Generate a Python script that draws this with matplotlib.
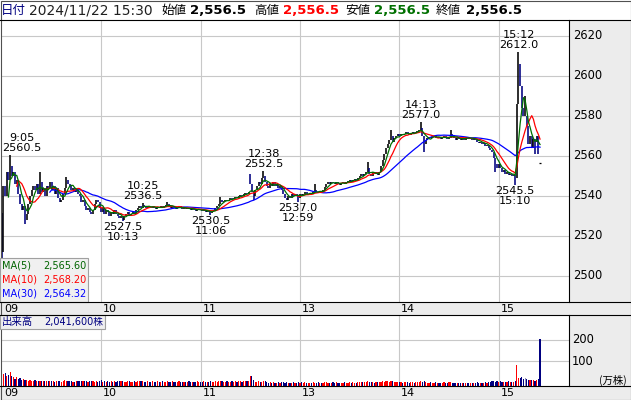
import matplotlib
matplotlib.use("Agg")
import matplotlib.pyplot as plt
from matplotlib.patches import Rectangle
import matplotlib.transforms as mtrans
import numpy as np
import pandas as pd

plt.rcParams['font.family'] = ['DejaVu Sans', 'Noto Sans CJK JP']

# ---------------- data (1-minute bars, lunch break removed) ----------------
# minute index: 0 = 9:00 ... 149 = 11:29, 150 = 12:30 ... 324 = 15:24, 325 = 15:30 close
closes = [
    2512, 2545, 2540, 2552, 2548, 2555, 2550, 2552, 2546, 2548,
    2541, 2536, 2533, 2535, 2528, 2531, 2536, 2540, 2543, 2545,
    2543, 2546, 2541, 2547, 2542, 2544, 2540, 2545, 2544, 2547,
    2543, 2545, 2541, 2544, 2539, 2537, 2538, 2541, 2544, 2548,
    2546, 2545, 2543, 2544, 2542, 2543, 2541, 2540, 2537, 2538,
    2535, 2533, 2534, 2532, 2531, 2533, 2536, 2538, 2537, 2534,
    2532, 2534, 2531, 2533, 2532, 2530, 2532, 2531, 2533, 2531,
    2530, 2529, 2530, 2528, 2530, 2531, 2532, 2530, 2531, 2532,
    2531, 2533, 2534, 2535, 2534, 2535.5, 2535, 2534, 2535, 2534.5,
    2534, 2535, 2534, 2533.5, 2534.5, 2534, 2535, 2534, 2535, 2535.5,
    2536, 2535, 2534, 2534.5, 2534, 2533.5, 2534, 2535, 2534, 2533.5,
    2534, 2533.5, 2534, 2533.5, 2533, 2534, 2533, 2532.5, 2533, 2533.5,
    2533, 2532.5, 2533, 2532, 2532.5, 2532, 2531.5, 2532.5, 2533, 2534,
    2535, 2536, 2538, 2537, 2537.5, 2538, 2537.5, 2538, 2539, 2538.5,
    2539, 2539.5, 2539, 2540, 2540.5, 2540, 2541, 2541.5, 2541, 2542,
    2546, 2542, 2540, 2543, 2545, 2547, 2546, 2549, 2550, 2547,
    2545, 2544, 2546, 2545, 2547, 2545, 2546, 2544, 2545, 2543,
    2541, 2539, 2538, 2540, 2539, 2541, 2540, 2541, 2540, 2539,
    2541, 2540, 2541, 2542, 2540.5, 2541, 2541.5, 2541, 2542, 2543,
    2542, 2541.5, 2542.5, 2542, 2543, 2544.5, 2546, 2547, 2546, 2547,
    2546.5, 2546, 2547, 2546, 2545.5, 2546.5, 2547, 2546, 2547, 2547.5,
    2548, 2547, 2548, 2548.5, 2547.5, 2549, 2550, 2551, 2550, 2551,
    2552, 2554, 2551, 2550, 2552, 2551, 2552, 2550.5, 2552, 2555,
    2558, 2561, 2564, 2566, 2568, 2570, 2567, 2569, 2570, 2571,
    2570, 2571, 2570.5, 2571, 2572, 2571, 2570.5, 2571, 2572, 2571.5,
    2572, 2572.5, 2573, 2574, 2570, 2566, 2568, 2569, 2569.5, 2569,
    2569.5, 2570, 2569, 2569.5, 2569, 2568.5, 2569, 2570, 2569, 2568.5,
    2569, 2571, 2570, 2569, 2568, 2569, 2568.5, 2568, 2569, 2568,
    2569.5, 2569, 2568.5, 2569, 2568, 2568.5, 2568, 2567, 2566.5, 2567,
    2566, 2566.5, 2565, 2565.5, 2564, 2563, 2562, 2559, 2556, 2554,
    2556, 2554, 2552, 2553, 2551, 2552, 2550.5, 2551, 2550, 2550.5,
    2549, 2586, 2600, 2595, 2584, 2580, 2580, 2575, 2566, 2570,
    2564, 2568.5, 2567, 2570, 2566, 2556.5,
]

# bars whose open is not the previous close (opening, afternoon open, closing auction)
open_prices = {0: 2530, 150: 2550, 325: 2556.5}
# wick extremes
wick_highs = {0: 2531.5, 5: 2560.5, 23: 2552, 39: 2549.5, 85: 2536.5, 100: 2537,
              132: 2539.5, 150: 2551, 158: 2552.5, 189: 2546, 221: 2557,
              235: 2573, 253: 2577.0, 271: 2573, 312: 2612.0, 313: 2606, 316: 2590}
wick_lows = {0: 2505, 14: 2526, 71: 2529.5, 73: 2527.5, 126: 2530.5, 152: 2538,
             179: 2537.0, 255: 2562, 298: 2552, 310: 2545.5, 322: 2561, 324: 2561}

# volume per bar (万株)
volumes = [
    420, 40, 46, 30, 36, 50, 30, 26, 20, 28,
    16, 22, 14, 18, 12, 15, 10, 13, 11, 9,
    12, 8, 10, 9, 11, 8, 7, 10, 11, 8,
    7, 9, 6, 8, 11, 7, 6, 8, 12, 10,
    8, 7, 9, 6, 5, 8, 7, 9, 10, 8,
    7, 10, 6, 8, 9, 7, 5, 8, 6, 7,
    12, 6, 8, 5, 7, 6, 8, 5, 7, 6,
    8, 11, 7, 9, 6, 5, 7, 8, 6, 5,
    7, 6, 8, 9, 7, 10, 6, 5, 7, 6,
    5, 7, 6, 4, 8, 5, 6, 7, 5, 6,
    8, 6, 5, 7, 4, 6, 5, 7, 6, 4,
    5, 6, 4, 7, 5, 6, 4, 5, 7, 5,
    6, 5, 7, 4, 6, 5, 8, 5, 6, 7,
    6, 8, 9, 7, 5, 6, 7, 5, 6, 8,
    5, 7, 6, 8, 7, 6, 9, 7, 8, 10,
    30, 33, 14, 6, 5, 8, 6, 5, 10, 7,
    3, 2, 4, 2, 3, 2, 2, 4, 2, 3,
    4, 2, 3, 2, 2, 1, 3, 2, 2, 4,
    2, 3, 1, 3, 2, 2, 2, 1, 3, 2,
    2, 3, 2, 2, 1, 4, 3, 2, 2, 2,
    3, 2, 3, 2, 2, 1, 2, 3, 2, 2,
    3, 2, 4, 2, 2, 3, 4, 3, 3, 5,
    4, 9, 6, 3, 4, 2, 3, 5, 4, 6,
    7, 6, 9, 8, 6, 9, 7, 5, 4, 6,
    4, 3, 2, 4, 3, 5, 2, 3, 4, 2,
    3, 4, 5, 10, 6, 7, 3, 2, 2, 3,
    2, 2, 3, 2, 1, 2, 2, 3, 2, 2,
    3, 6, 2, 2, 2, 1, 2, 2, 2, 1,
    2, 2, 1, 2, 2, 1, 2, 3, 2, 2,
    2, 2, 3, 2, 4, 5, 7, 9, 6, 7,
    5, 8, 4, 6, 5, 3, 7, 4, 6, 5,
    8, 82, 24, 22, 26, 20, 24, 18, 14, 13,
    15, 12, 11, 13, 17, 204.16,
]

# annotated extremes: (minute, price, kind, time label)
extremes = [
    (5, 2560.5, 'high', '9:05'),
    (85, 2536.5, 'high', '10:25'),
    (73, 2527.5, 'low', '10:13'),
    (126, 2530.5, 'low', '11:06'),
    (158, 2552.5, 'high', '12:38'),
    (179, 2537.0, 'low', '12:59'),
    (253, 2577.0, 'high', '14:13'),
    (312, 2612.0, 'high', '15:12'),
    (310, 2545.5, 'low', '15:10'),
]

hour_ticks = [0, 60, 120, 180, 240, 300]
hour_labels = ['09', '10', '11', '13', '14', '15']
price_ticks = [2500, 2520, 2540, 2560, 2580, 2600, 2620]
vol_ticks = [100, 200]

ma_text = [('MA(5)', '2,565.60', '#006400'),
           ('MA(10)', '2,568.20', '#ff0000'),
           ('MA(30)', '2,564.32', '#0000ff')]

# ---------------- figure ----------------
W, H = 631, 400
fig = plt.figure(figsize=(W / 100, H / 100), dpi=100)
fig.patch.set_facecolor('white')

def axes_px(x0, y0, x1, y1, **kw):
    return fig.add_axes([x0 / W, 1 - y1 / H, (x1 - x0) / W, (y1 - y0) / H], **kw)

GRAY_BG = '#ececec'
GRID = '#c8c8c8'
NAVY = '#000080'

ax_bg = fig.add_axes([0, 0, 1, 1], zorder=0)
ax_bg.set_xlim(0, W); ax_bg.set_ylim(H, 0); ax_bg.axis('off')
ax_bg.add_patch(Rectangle((569, 20), 62, 380, facecolor=GRAY_BG, edgecolor='none'))
ax_bg.add_patch(Rectangle((0, 302), 631, 13, facecolor=GRAY_BG, edgecolor='none'))
ax_bg.add_patch(Rectangle((0, 386), 631, 14, facecolor=GRAY_BG, edgecolor='none'))

# price panel
PX_PER_MIN = 1.656
ax_p = axes_px(1, 20.5, 569, 302, zorder=1)
xlim = (-0.5, -0.5 + 568 / PX_PER_MIN)
ax_p.set_xlim(*xlim)
ax_p.set_ylim(2487, 2627.5)
ax_p.set_facecolor('white')

m = np.arange(len(closes))
c = np.asarray(closes, dtype=float)
o = np.r_[c[0], c[:-1]]
for k, v in open_prices.items():
    o[k] = v
hi = np.maximum(o, c)
lo = np.minimum(o, c)
for k, v in wick_highs.items():
    hi[k] = max(hi[k], v)
for k, v in wick_lows.items():
    lo[k] = min(lo[k], v)
up = c >= o
cols = np.where(up, 'black', NAVY)
rng = hi > lo
ax_p.vlines(m[rng], lo[rng], hi[rng], colors=cols[rng], linewidth=1.15, zorder=2)
for k in m[~rng]:
    ax_p.hlines(c[k], k - 0.7, k + 0.7, colors='black', linewidth=0.9, zorder=2)

cs = pd.Series(c)
ax_p.plot(m, cs.rolling(30).mean(), color='#0000ff', lw=0.9, zorder=3)
ax_p.plot(m, cs.rolling(10).mean(), color='#ff0000', lw=0.9, zorder=4)
ax_p.plot(m, cs.rolling(5).mean(), color='#007000', lw=0.9, zorder=5)

ax_p.set_xticks(hour_ticks[1:])
ax_p.set_yticks(price_ticks)
ax_p.grid(True, color=GRID, lw=0.8)
ax_p.set_axisbelow(True)
ax_p.tick_params(length=0, labelbottom=False, labelleft=False)
for s in ax_p.spines.values():
    s.set_visible(False)

for (mm, p, kind, t) in extremes:
    dx = 12 if mm < 10 else 0
    if kind == 'high':
        txt = f"{t}\n{p:.1f}"
        ax_p.annotate(txt, xy=(mm, p), xytext=(dx, 2), textcoords='offset pixels',
                      ha='center', va='bottom', fontsize=8.1, linespacing=1.0,
                      annotation_clip=False, zorder=6)
    else:
        txt = f"{p:.1f}\n{t}"
        ax_p.annotate(txt, xy=(mm, p), xytext=(dx, -1), textcoords='offset pixels',
                      ha='center', va='top', fontsize=8.1, linespacing=1.0,
                      annotation_clip=False, zorder=6)

# volume panel
ax_v = axes_px(1, 315, 569, 386, zorder=1)
ax_v.set_xlim(*xlim)
VMIN = -14
ax_v.set_ylim(VMIN, 313)
ax_v.set_facecolor('white')
vol = np.asarray(volumes, dtype=float)
prev = np.r_[np.nan, c[:-1]]
vcols = np.where(c > prev, '#ff0000', np.where(c < prev, NAVY, '#9090b8'))
vcols[0] = NAVY
ax_v.bar(m, vol - VMIN, bottom=VMIN, width=0.72, color=vcols, linewidth=0, zorder=2)
ax_v.set_xticks(hour_ticks[1:])
ax_v.set_yticks(vol_ticks)
ax_v.grid(True, color=GRID, lw=0.8)
ax_v.set_axisbelow(True)
ax_v.tick_params(length=0, labelbottom=False, labelleft=False)
for s in ax_v.spines.values():
    s.set_visible(False)

# overlay
ax_ov = fig.add_axes([0, 0, 1, 1], zorder=5)
ax_ov.set_xlim(0, W); ax_ov.set_ylim(H, 0); ax_ov.axis('off')
ax_ov.patch.set_visible(False)

lk = dict(color='black', lw=0.8)
for yy in (20, 302, 315, 386):
    ax_ov.plot([0, W], [yy, yy], **lk)
ax_ov.plot([569, 569], [20, 302], **lk)
ax_ov.plot([569, 569], [315, 386], **lk)
ax_ov.add_patch(Rectangle((0.5, 0.5), W - 1, H - 1, fill=False, edgecolor='#505050', lw=0.8))

# right-side labels
tr_p = mtrans.blended_transform_factory(ax_ov.transData, ax_p.transData)
for p in price_ticks:
    ax_ov.text(573, p, str(p), transform=tr_p, ha='left', va='center', fontsize=8.3, color='black')
tr_v = mtrans.blended_transform_factory(ax_ov.transData, ax_v.transData)
for v in vol_ticks:
    ax_ov.text(572, v, str(v), transform=tr_v, ha='left', va='center', fontsize=8.3, color='black')
ax_ov.text(627, 380, '(万株)', ha='right', va='center', fontsize=7.5,
           family=['Noto Sans CJK JP', 'DejaVu Sans'])

# hour labels in both strips
tr_x = mtrans.blended_transform_factory(ax_p.transData, ax_ov.transData) + \
    mtrans.ScaledTranslation(2 / 100, 0, fig.dpi_scale_trans)
for t, lab in zip(hour_ticks, hour_labels):
    for yy in (308.5, 393):
        ax_ov.text(t, yy, lab, transform=tr_x, ha='left', va='center', fontsize=8)

# MA legend box
ax_ov.add_patch(Rectangle((0, 258), 88, 44, facecolor='#f0f0f0', edgecolor='#a0a0a0', lw=0.8))
for i, (name, val, col) in enumerate(ma_text):
    yy = 266 + i * 14
    ax_ov.text(2, yy, name, color=col, fontsize=7, ha='left', va='center')
    ax_ov.text(87, yy, val, color=col, fontsize=7, ha='right', va='center')

# volume legend box
ax_ov.add_patch(Rectangle((0, 315), 105, 14, facecolor='#f0f0f0', edgecolor='#a0a0a0', lw=0.8))
ax_ov.text(2, 322, '出来高', color=NAVY, fontsize=7.5, ha='left', va='center',
           family=['Noto Sans CJK JP', 'DejaVu Sans'])
ax_ov.text(103, 322, '2,041,600株', color=NAVY, fontsize=7, ha='right', va='center',
           family=['DejaVu Sans', 'Noto Sans CJK JP'])

# header
cjk = ['Noto Sans CJK JP', 'DejaVu Sans']
hy = 10.5
ax_ov.text(1, hy, '日付', color=NAVY, fontsize=9, va='center', family=cjk)
ax_ov.text(29, hy, '2024/11/22 15:30', color='#202020', fontsize=10, va='center')
for x_lab, lab, x_val, col in [(161, '始値', 190, 'black'), (254, '高値', 283, '#ff0000'),
                               (345, '安値', 374, '#007000'), (436, '終値', 466, 'black')]:
    ax_ov.text(x_lab, hy, lab, color='black', fontsize=9, va='center', family=cjk)
    ax_ov.text(x_val, hy, '2,556.5', color=col, fontsize=9.5, fontweight='bold', va='center')

fig.savefig('out.png', dpi=100, facecolor='white')
